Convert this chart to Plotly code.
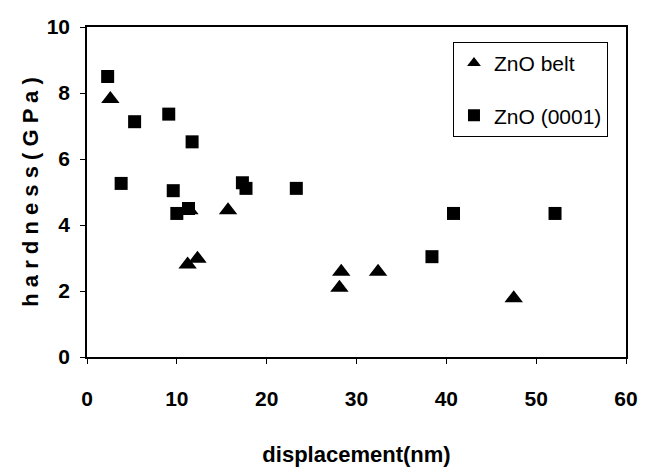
import plotly.graph_objects as go

belt_x = [2.6, 11.4, 11.2, 12.3, 15.7, 28.3, 28.1, 32.4, 47.5]
belt_y = [7.82, 4.45, 2.80, 2.98, 4.45, 2.58, 2.10, 2.58, 1.78]

bulk_x = [2.3, 5.3, 9.1, 11.7, 3.8, 9.6, 10.0, 11.3, 17.3, 17.7, 23.3, 38.4, 40.8, 52.1]
bulk_y = [8.50, 7.13, 7.36, 6.52, 5.26, 5.04, 4.35, 4.50, 5.28, 5.11, 5.11, 3.04, 4.35, 4.35]

x_ticks = [0, 10, 20, 30, 40, 50, 60]
y_ticks = [0, 2, 4, 6, 8, 10]

FONT = "Liberation Sans, Arial"

fig = go.Figure()
fig.add_trace(go.Scatter(x=belt_x, y=belt_y, mode="markers", name="ZnO belt",
                         legendgroup="a",
                         marker=dict(symbol="triangle-up", size=16, color="black")))
fig.add_trace(go.Scatter(x=bulk_x, y=bulk_y, mode="markers", name="ZnO (0001)",
                         legendgroup="b",
                         marker=dict(symbol="square", size=13, color="black")))

axis_common = dict(showgrid=False, zeroline=False, showline=True, linecolor="black",
                   linewidth=1.5, mirror=True, ticks="outside", ticklen=5,
                   tickcolor="black", tickwidth=1,
                   tickfont=dict(family=FONT, size=21, color="black", weight="bold"))

fig.update_xaxes(range=[0, 60], tickvals=x_ticks, ticklabelstandoff=17,
                 title=dict(text="<b>displacement(nm)</b>",
                            font=dict(family=FONT, size=22, color="black"), standoff=38),
                 **axis_common)
fig.update_yaxes(range=[0, 10], tickvals=y_ticks, ticklabelstandoff=6,
                 title=dict(text="<b>h a r d n e s s ( G P a )</b>",
                            font=dict(family=FONT, size=22, color="black"), standoff=2),
                 **axis_common)

fig.update_layout(
    width=652, height=472,
    margin=dict(l=79, r=34, t=19, b=123, autoexpand=False),
    plot_bgcolor="white", paper_bgcolor="white",
    font=dict(family=FONT, color="black"),
    legend=dict(x=0.679, y=0.955, xanchor="left", yanchor="top",
                bordercolor="black", borderwidth=1, bgcolor="white",
                font=dict(family=FONT, size=21, color="black"),
                itemsizing="constant", tracegroupgap=22),
)

fig.write_html("out.html")
